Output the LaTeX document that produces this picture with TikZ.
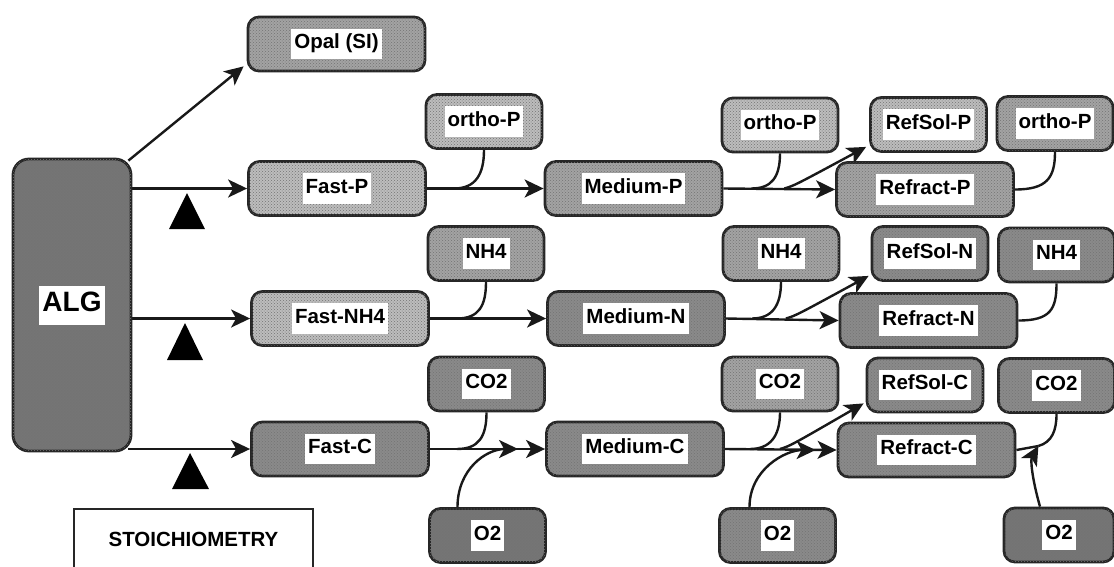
\documentclass[tikz,border=0pt]{standalone}
\usepackage{fontspec}
\setmainfont{Liberation Sans}
\usetikzlibrary{arrows.meta,calc,patterns}
\pgfdeclarelayer{paper}
\pgfdeclarelayer{background}
\pgfsetlayers{paper,background,main}

% grey tones of the pool boxes
\definecolor{toneA}{gray}{0.74}
\definecolor{toneB}{gray}{0.64}
\definecolor{toneC}{gray}{0.54}
\definecolor{toneD}{gray}{0.46}

\newcommand\poolfont{\fontsize{20.5}{24.6}\selectfont\bfseries}
\newcommand\boxlabel[1]{{\setlength\fboxsep{3pt}\colorbox{white}{\strut #1}}}

\tikzset{
  pool/.style={draw=black!85, line width=2.8pt, rounded corners=11pt,
               minimum height=54pt, inner sep=0pt, font=\poolfont,
               postaction={pattern=crosshatch dots, pattern color=black!55}},
  bigpool/.style={pool, minimum width=177pt},
  smallpool/.style={pool, minimum width=116pt},
  flow/.style={line width=2.4pt, black!90,
               -{Stealth[length=19pt,width=18pt,inset=5pt]}},
  link/.style={line width=2.4pt, black!90},
}

\begin{document}
\begin{tikzpicture}[x=1pt,y=-1pt]
\path[use as bounding box, clip] (0,0) rectangle (1114,566);
\begin{pgfonlayer}{paper}
\fill[white] (0,0) rectangle (1114,566);
\end{pgfonlayer}

% source pool
\node[pool, fill=toneD, minimum width=118pt, minimum height=292pt,
      rounded corners=16pt, font=\fontsize{28}{33}\selectfont\bfseries]
      (alg) at (72,305) {\boxlabel{ALG}};

% fast pools
\node[bigpool, fill=toneB] (opal)  at (336.5,44)  {\boxlabel{Opal (SI)}};
\node[bigpool, fill=toneA] (fastp) at (337,188.5) {\boxlabel{Fast-P}};
\node[bigpool, fill=toneA] (fastn) at (340,318.5) {\boxlabel{Fast-NH4}};
\node[bigpool, fill=toneC] (fastc) at (340,449)   {\boxlabel{Fast-C}};

% products of the fast pools
\node[smallpool, fill=toneA] (orthoA) at (484,121.5) {\boxlabel{ortho-P}};
\node[smallpool, fill=toneB] (nhA)    at (486,253.5) {\boxlabel{NH4}};
\node[smallpool, fill=toneC] (coA)    at (486.5,384) {\boxlabel{CO2}};
\node[smallpool, fill=toneD] (oxA)    at (487.5,535.5) {\boxlabel{O2}};

% medium pools
\node[bigpool, fill=toneB] (medp) at (633.5,188.5) {\boxlabel{Medium-P}};
\node[bigpool, fill=toneC] (medn) at (636,318.5)   {\boxlabel{Medium-N}};
\node[bigpool, fill=toneC] (medc) at (635,449)     {\boxlabel{Medium-C}};

% products of the medium pools
\node[smallpool, fill=toneA] (orthoB) at (780,125)   {\boxlabel{ortho-P}};
\node[smallpool, fill=toneB] (nhB)    at (781,253.5) {\boxlabel{NH4}};
\node[smallpool, fill=toneB] (coB)    at (780,384)   {\boxlabel{CO2}};
\node[smallpool, fill=toneC] (oxB)    at (777.5,535.5) {\boxlabel{O2}};

% refractory soluble pools
\node[smallpool, fill=toneA] (rsp) at (928.5,124.5) {\boxlabel{RefSol-P}};
\node[smallpool, fill=toneC] (rsn) at (930,253.5)   {\boxlabel{RefSol-N}};
\node[smallpool, fill=toneC] (rsc) at (925,385)     {\boxlabel{RefSol-C}};

% refractory pools
\node[bigpool, fill=toneB] (rfp) at (925,189.5)  {\boxlabel{Refract-P}};
\node[bigpool, fill=toneC] (rfn) at (928.5,320.5) {\boxlabel{Refract-N}};
\node[bigpool, fill=toneC] (rfc) at (926.5,450)  {\boxlabel{Refract-C}};

% products of the refractory pools
\node[smallpool, fill=toneB] (orthoC) at (1055,123.5) {\boxlabel{ortho-P}};
\node[smallpool, fill=toneC] (nhC)    at (1056.5,255) {\boxlabel{NH4}};
\node[smallpool, fill=toneC] (coC)    at (1056.5,385.5) {\boxlabel{CO2}};
\node[smallpool, fill=toneD, minimum width=110pt] (oxC) at (1059,535) {\boxlabel{O2}};

% stoichiometry box (open at the bottom edge)
\node[draw=black!85, line width=2pt, anchor=north, minimum width=239pt,
      inner sep=0pt, text height=37pt, text depth=55pt, font=\poolfont]
      (stoich) at (193.5,508) {STOICHIOMETRY};

% stoichiometry markers
\fill (187,193) -- (169,229) -- (205,229) -- cycle;
\fill (185,323) -- (167,360) -- (203,360) -- cycle;
\fill (190,453) -- (172,489) -- (209,489) -- cycle;

\begin{pgfonlayer}{background}
% algal partitioning
\draw[flow] ([xshift=-4pt,yshift=-3pt]alg.north east) -- ([xshift=-3pt,yshift=6pt]opal.south west);
\draw[flow] (alg.east |- fastp.west) -- (fastp.west);
\draw[flow] (alg.east |- fastn.west) -- (fastn.west);
\draw[flow] ([xshift=-4pt]alg.east |- fastc.west) -- (fastc.west);

% fast -> medium
\draw[flow] (fastp.east) -- (medp.west);
\draw[flow] (fastn.east) -- (medn.west);
\draw[flow] (fastc.east) -- (medc.west);
\draw[link] ([xshift=27pt]fastp.east) .. controls +(22,0) and +(0,24) .. (orthoA.south);
\draw[link] ([xshift=27pt]fastn.east) .. controls +(22,0) and +(0,24) .. (nhA.south);
\draw[link] ([xshift=27pt]fastc.east) .. controls +(22,0) and +(0,24) .. (coA.south);
\draw[flow] ([xshift=-30pt]oxA.north) .. controls +(0,-38) and +(-32,0) .. ([xshift=-27pt]medc.west);

% medium -> refractory
\draw[flow] (medp.east) -- (rfp.west);
\draw[flow] (medn.east) -- (rfn.west);
\draw[flow] (medc.east) -- (rfc.west);
\draw[link] ([xshift=28pt]medp.east) .. controls +(20,0) and +(0,24) .. (orthoB.south);
\draw[link] ([xshift=26pt]medn.east) .. controls +(20,0) and +(0,24) .. (nhB.south);
\draw[link] ([xshift=25pt]medc.east) .. controls +(20,0) and +(0,24) .. (coB.south);
\draw[flow] ([xshift=61pt]medp.east) .. controls +(10,-3) .. ([xshift=-3pt,yshift=6pt]rsp.south west);
\draw[flow] ([xshift=60pt]medn.east) .. controls +(10,-3) .. ([xshift=-2pt,yshift=6pt]rsn.south west);
\draw[flow] ([xshift=55pt]medc.east) .. controls +(10,-3) .. ([xshift=-2pt,yshift=10pt]rsc.south west);
\draw[flow] ([xshift=-28pt]oxB.north) .. controls +(0,-38) and +(-30,0) .. ([xshift=-21pt]rfc.west);

% refractory -> products
\draw[link] (rfp.east) .. controls +(32,0) and +(0,26) .. (orthoC.south);
\draw[link] (rfn.east) .. controls +(32,0) and +(0,26) .. (nhC.south);
\coordinate (jc) at ([xshift=22pt,yshift=4pt]rfc.east);
\draw[link] (rfc.east) -- (jc);
\draw[link] (jc) .. controls +(14,-4) and +(0,16) .. (coC.south);
\draw[flow] ([xshift=-19pt]oxC.north) .. controls +(-8,-28) and +(-8,14) .. (jc);
\end{pgfonlayer}
\end{tikzpicture}
\end{document}
